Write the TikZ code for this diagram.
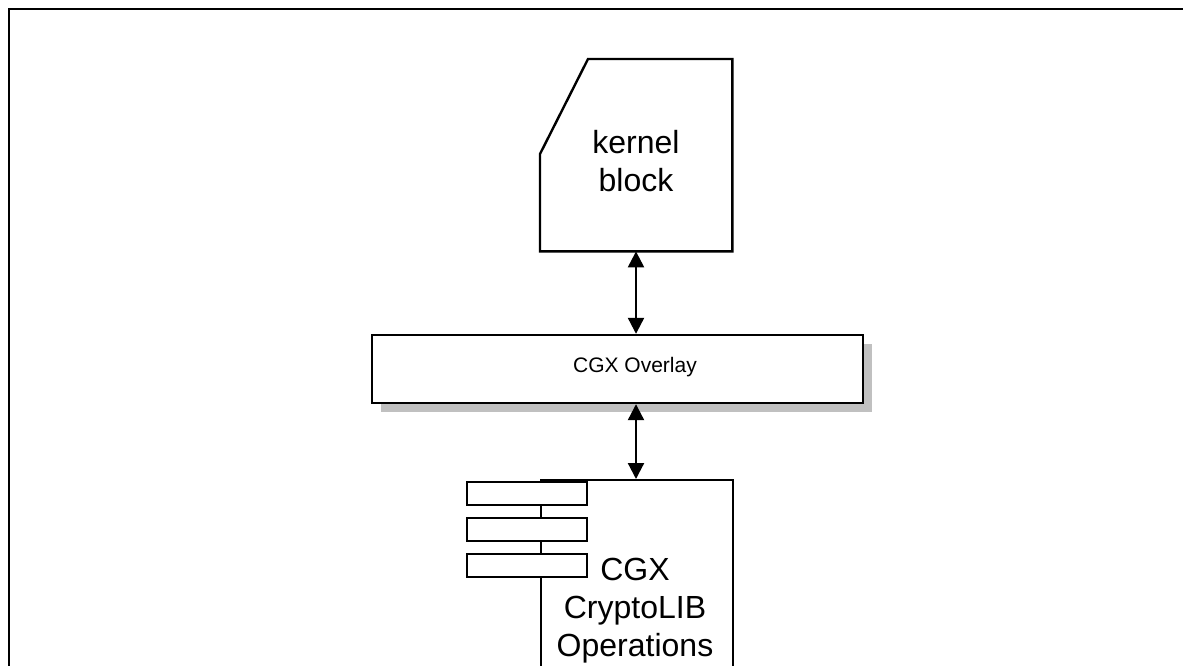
\documentclass[tikz,border=0pt]{standalone}
\usepackage{fontspec}
\setmainfont{Liberation Sans}
\usetikzlibrary{arrows.meta,calc,shadows}
\definecolor{shadowgray}{HTML}{C0C0C0}
\begin{document}
\begin{tikzpicture}[x=1pt,y=-1pt,
  thick line/.style={line width=2.4pt},
  dblarrow/.style={line width=2.2pt,{Triangle[length=16pt,width=16pt]}-{Triangle[length=16pt,width=16pt]}},
  bigtext/.style={font=\fontsize{32}{38}\selectfont, align=center, inner sep=0pt},
  smalltext/.style={font=\fontsize{21}{24}\selectfont, inner sep=0pt},
  tab/.style={draw, fill=white, line width=1.8pt, minimum width=120pt, minimum height=23pt, inner sep=0pt, anchor=north west},
  shadowbox/.style={draw, fill=white, line width=2.4pt, minimum width=491pt, minimum height=68pt, inner sep=0pt,
     drop shadow={shadow xshift=9pt, shadow yshift=-9pt, fill=shadowgray, opacity=1}}
]
\useasboundingbox (0,0) rectangle (1183,666);
\clip (0,0) rectangle (1183,666);
% frame
\coordinate (frameBL) at (9,700);
\coordinate (frameTL) at (9,9);
\coordinate (frameTR) at (1200,9);
\draw[thick line] (frameBL) -- (frameTL) -- (frameTR);
\coordinate (axis) at (636,0);
% kernel block
\node[minimum width=192pt, minimum height=192pt, inner sep=0pt, anchor=north west] (kernel) at (540,59) {};
\draw[thick line, line join=miter] (kernel.south west) -- ($(kernel.north west)+(0,95)$) -- ($(kernel.north west)+(48,0)$) -- (kernel.north east) -- (kernel.south east) -- cycle;
\node[bigtext] (kernellabel) at (636,161) {kernel\\block};
% overlay
\node[shadowbox] (overlay) at (617.5,369) {};
\node[smalltext] (overlaylabel) at (635,367) {CGX Overlay};
% crypto component
\node[draw, line width=2.4pt, minimum width=192pt, minimum height=260pt, inner sep=0pt, anchor=north west] (crypto) at (540,479) {};
\node[tab] (tab1) at (466,481) {};
\node[tab] (tab2) at (466,517) {};
\node[tab] (tab3) at (466,553) {};
\node[bigtext] (cryptolabel) at (635,611) {CGX\\CryptoLIB\\Operations};
% arrows
\draw[dblarrow] (kernel.south -| axis) -- (overlay.north -| axis);
\draw[dblarrow] (overlay.south -| axis) -- (crypto.north -| axis);
\end{tikzpicture}
\end{document}
